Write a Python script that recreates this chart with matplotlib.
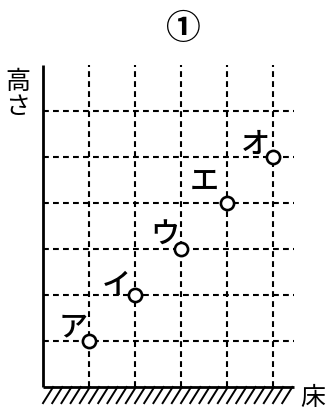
import numpy as np
import matplotlib.pyplot as plt

plt.rcParams['font.family'] = ['Noto Sans CJK JP', 'DejaVu Sans']

# grid positions (1 unit = one grid square)
grid_x = [1, 2, 3, 4, 5]
grid_y = [1, 2, 3, 4, 5, 6]

# the five balls
labels = ['ア', 'イ', 'ウ', 'エ', 'オ']
ball_x = [1, 2, 3, 4, 5]
ball_y = [1, 2, 3, 4, 5]
label_dx = [-0.35, -0.4, -0.36, -0.5, -0.38]
label_dy = [0.33, 0.24, 0.33, 0.5, 0.30]

fig = plt.figure(figsize=(3.3, 4.14), dpi=100)
ax = fig.add_axes([0, 0, 1, 1])
ax.set_xlim(-0.935, 6.239)
ax.set_ylim(-0.565, 8.435)
ax.axis('off')

dash = (0, (2.8, 2.0))
for gx in grid_x:
    ax.plot([gx, gx], [0, 7], color='black', lw=1.5, linestyle=dash, zorder=1)
for gy in grid_y:
    ax.plot([0, 5.45], [gy, gy], color='black', lw=1.5, linestyle=dash, zorder=1)

# height axis and floor
ax.plot([0, 0], [0, 7], color='black', lw=2.0, solid_capstyle='butt', zorder=2)
ax.plot([0, 5.45], [0, 0], color='black', lw=2.0, solid_capstyle='butt', zorder=2)

# floor hatching
for hx in np.arange(0.0, 5.3, 0.2):
    ax.plot([hx, hx + 0.22], [-0.35, 0], color='black', lw=1.4, zorder=2)

ax.plot(ball_x, ball_y, 'o', ms=9.5, mfc='white', mec='black', mew=1.9,
        linestyle='none', zorder=3)
for lab, bx, by, dx, dy in zip(labels, ball_x, ball_y, label_dx, label_dy):
    ax.text(bx + dx, by + dy, lab, fontsize=21, fontweight='medium',
            ha='center', va='center', zorder=4)

ax.text(3.03, 7.82, '①', fontsize=25, fontweight='bold', ha='center', va='center')
ax.text(-0.55, 6.38, '高\nさ', fontsize=18, ha='center', va='center',
        linespacing=0.95)
ax.text(5.87, -0.22, '床', fontsize=18, ha='center', va='center')

fig.savefig('out.png', dpi=100)
